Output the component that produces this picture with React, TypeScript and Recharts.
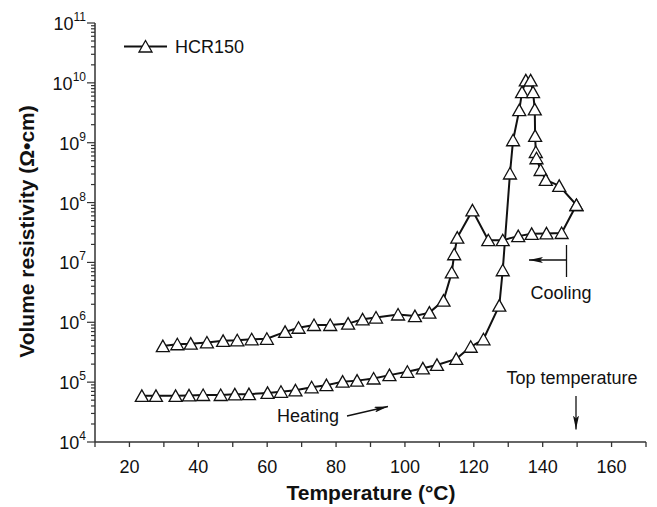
import { LineChart, Line, XAxis, YAxis } from "recharts";

// heating run (lower branch, then the peak up to the top temperature)
const heatT = [
  23.6, 27.7, 33.4, 37.3, 41.4, 46.5, 50.6, 54.7, 60.1, 64.0, 68.2, 72.9, 77.2, 81.9, 86.1,
  90.9, 95.5, 100.7, 105.2, 109.3, 114.9, 119.1, 122.8, 127.4, 128.4, 130.5, 131.4, 133.2,
  134.0, 135.1, 136.5, 137.2, 137.7, 137.8, 138.0, 138.2, 139.4, 140.9, 144.8, 149.8,
];
const heatR = [
  5.9e4, 5.9e4, 5.9e4, 6.0e4, 6.1e4, 6.1e4, 6.25e4, 6.3e4, 6.6e4, 6.9e4, 7.3e4, 8.2e4, 8.9e4,
  1.02e5, 1.06e5, 1.15e5, 1.31e5, 1.49e5, 1.7e5, 1.94e5, 2.45e5, 3.9e5, 5.2e5, 1.9e6, 7.4e6,
  3.06e8, 1.1e9, 3.5e9, 7e9, 1.1e10, 1.1e10, 7e9, 3.6e9, 1.3e9, 7e8, 5.5e8, 3.5e8, 2.4e8,
  1.9e8, 9.1e7,
];

// cooling run, from the top temperature back down
const coolT = [
  149.8, 145.5, 141.1, 136.8, 132.9, 128.4, 124.2, 119.6, 115.2, 114.3, 113.6, 111.2, 107.1,
  102.9, 98.0, 91.6, 87.7, 83.5, 78.3, 73.6, 69.1, 65.2, 59.9, 55.5, 51.3, 47.2, 42.5, 37.8,
  33.9, 29.7,
];
const coolR = [
  9.1e7, 3.1e7, 3.05e7, 3.0e7, 2.75e7, 2.35e7, 2.35e7, 7.4e7, 2.6e7, 1.37e7, 6.8e6, 2.3e6,
  1.45e6, 1.27e6, 1.35e6, 1.2e6, 1.12e6, 9.5e5, 9.0e5, 9.0e5, 8.1e5, 6.9e5, 5.3e5, 5.2e5,
  5.0e5, 4.9e5, 4.6e5, 4.4e5, 4.3e5, 4.0e5,
];

const xTicks = [10, 20, 30, 40, 50, 60, 70, 80, 90, 100, 110, 120, 130, 140, 150, 160, 170];
const xLabels = [20, 40, 60, 80, 100, 120, 140, 160];
const yPowers = [4, 5, 6, 7, 8, 9, 10, 11];

const heating = heatT.map((t, i) => ({ t, r: heatR[i] }));
const cooling = coolT.map((t, i) => ({ t, r: coolR[i] }));

const yTicks: number[] = [];
yPowers.forEach((p, i) => {
  const last = i === yPowers.length - 1;
  for (let k = 1; k <= (last ? 1 : 9); k++) yTicks.push(k * Math.pow(10, p));
});

const FONT = "'Liberation Sans', Arial, Helvetica, sans-serif";
const INK = "#111";

function Tri(props: any) {
  const { cx, cy } = props;
  if (cx == null || cy == null) return null;
  return (
    <polygon
      points={`${cx},${cy - 6} ${cx - 6.5},${cy + 5.5} ${cx + 6.5},${cy + 5.5}`}
      fill="#fff"
      stroke={INK}
      strokeWidth={1.3}
    />
  );
}

function XTick({ x, y, payload }: any) {
  const v = payload.value;
  return (
    <g>
      <line x1={x} x2={x} y1={y} y2={y + 5} stroke="#333" strokeWidth={1.3} />
      {xLabels.includes(v) && (
        <text x={x} y={y + 30.5} textAnchor="middle" fontSize={18} fontFamily={FONT} fill={INK}>
          {v}
        </text>
      )}
    </g>
  );
}

function YTick({ x, y, payload }: any) {
  const lg = Math.log10(payload.value);
  const major = Math.abs(lg - Math.round(lg)) < 1e-6;
  return (
    <g>
      <line x1={x} x2={x - (major ? 8 : 4)} y1={y} y2={y} stroke="#333" strokeWidth={1.2} />
      {major && (
        <text x={x - 9} y={y + 7} textAnchor="end" fontSize={18} fontFamily={FONT} fill={INK}>
          10
          <tspan dy={-9} fontSize={12}>
            {Math.round(lg)}
          </tspan>
        </text>
      )}
    </g>
  );
}

function Overlay() {
  return (
    <svg
      width={657}
      height={507}
      style={{ position: "absolute", left: 0, top: 0, pointerEvents: "none" }}
      fontFamily={FONT}
    >
      <defs>
        <marker id="head" viewBox="0 0 14 6" refX={14} refY={3} markerWidth={14} markerHeight={6} markerUnits="userSpaceOnUse" orient="auto">
          <path d="M0,0 L14,3 L0,6 L3,3 Z" fill={INK} />
        </marker>
      </defs>
      {/* legend */}
      <line x1={124} x2={167} y1={46.5} y2={46.5} stroke={INK} strokeWidth={2} />
      <Tri cx={145.5} cy={46.5} />
      <text x={175} y={53} fontSize={18} fill={INK}>HCR150</text>

      {/* axis titles */}
      <text x={371} y={500} textAnchor="middle" fontSize={21} fontWeight="bold" fill={INK}>
        Temperature (°C)
      </text>
      <text
        transform="translate(34,231.5) rotate(-90)"
        textAnchor="middle"
        fontSize={21}
        fontWeight="bold"
        fill={INK}
      >
        Volume resistivity (Ω•cm)
      </text>

      {/* annotations */}
      <text x={277} y={421.5} fontSize={18} fill={INK}>Heating</text>
      <line x1={347} y1={416} x2={388} y2={406.5} stroke={INK} strokeWidth={1.3} markerEnd="url(#head)" />

      <text x={530.5} y={298.5} fontSize={18} fill={INK}>Cooling</text>
      <line x1={566.5} x2={566.5} y1={245} y2={277} stroke={INK} strokeWidth={1.3} />
      <line x1={566.5} y1={260} x2={529} y2={260} stroke={INK} strokeWidth={1.3} markerEnd="url(#head)" />

      <text x={506.5} y={384} fontSize={18} fill={INK}>Top temperature</text>
      <line x1={576} y1={396} x2={576} y2={429.5} stroke={INK} strokeWidth={1.3} markerEnd="url(#head)" />
    </svg>
  );
}

export default function App() {
  return (
    <div style={{ position: "relative", width: 657, height: 507, background: "#fff" }}>
      <style>{"body{margin:0}"}</style>
      <LineChart width={657} height={507} margin={{ top: 23, right: 11, bottom: 0, left: 0 }}>
        <XAxis
          type="number"
          dataKey="t"
          domain={[10, 170]}
          ticks={xTicks}
          interval={0}
          allowDataOverflow
          height={65}
          tickSize={0}
          tickMargin={0}
          tickLine={false}
          tick={<XTick />}
          stroke="#333"
          strokeWidth={1.5}
        />
        <YAxis
          type="number"
          dataKey="r"
          scale="log"
          domain={[1e4, 1e11]}
          ticks={yTicks}
          interval={0}
          allowDataOverflow
          width={95}
          tickSize={0}
          tickMargin={0}
          tickLine={false}
          tick={<YTick />}
          stroke="#333"
          strokeWidth={1.5}
        />
        <Line
          data={heating}
          dataKey="r"
          type="linear"
          stroke={INK}
          strokeWidth={2}
          dot={(p: any) => <Tri key={`h${p.index}`} {...p} />}
          activeDot={false}
          isAnimationActive={false}
        />
        <Line
          data={cooling}
          dataKey="r"
          type="linear"
          stroke={INK}
          strokeWidth={2}
          dot={(p: any) => <Tri key={`c${p.index}`} {...p} />}
          activeDot={false}
          isAnimationActive={false}
        />
      </LineChart>
      <Overlay />
    </div>
  );
}
